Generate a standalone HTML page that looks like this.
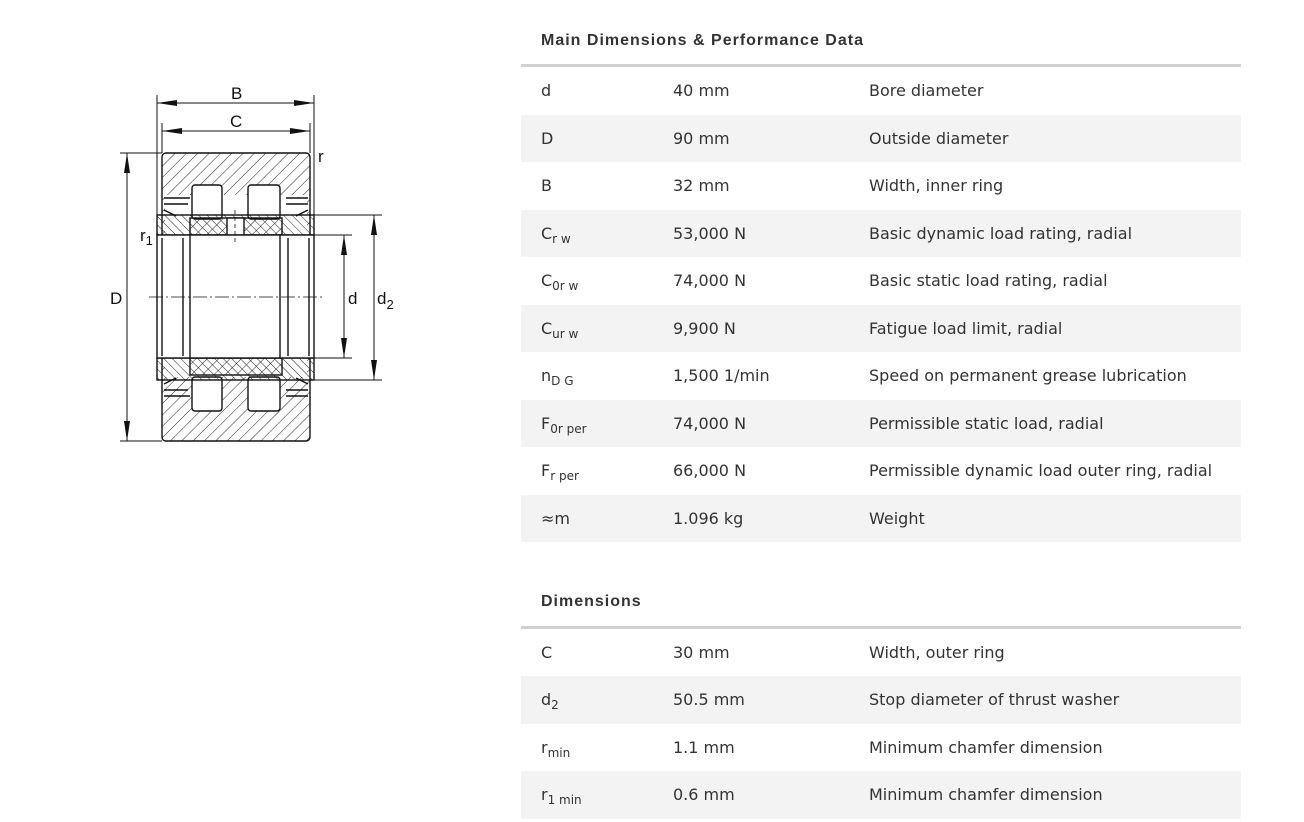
<!DOCTYPE html>
<html><head><meta charset="utf-8"><style>
body{margin:0;width:1304px;height:822px;background:#fff;font-family:"DejaVu Sans",sans-serif;color:#333;position:relative;overflow:hidden}
.h{position:absolute;left:541px;font-family:"Liberation Sans",sans-serif;font-weight:bold;font-size:16px;letter-spacing:1px;color:#333}
.line{position:absolute;left:521px;width:720px;height:3px;background:#d0d0d0}
.row{position:absolute;left:521px;width:720px;height:47.5px;font-size:16px}
.row.g{background:#f3f3f3}
.row span{position:absolute;top:14px}
.c1{left:20px}.c2{left:152px}.c3{left:348px}
sub{font-size:12px;vertical-align:-4px;line-height:0}
</style></head><body>
<svg width="460" height="470" style="position:absolute;left:0;top:0" xmlns="http://www.w3.org/2000/svg" font-family="Liberation Sans, sans-serif">
<defs>
<pattern id="h1" width="8" height="8" patternUnits="userSpaceOnUse" patternTransform="rotate(45)"><line x1="0" y1="0" x2="0" y2="8" stroke="#222" stroke-width="1"/></pattern>
<pattern id="h2" width="6" height="6" patternUnits="userSpaceOnUse" patternTransform="rotate(-45)"><line x1="0" y1="0" x2="0" y2="6" stroke="#222" stroke-width="1"/></pattern>
</defs>
<g stroke="#111" stroke-width="1.4" fill="none">
<rect x="162" y="153" width="148" height="288" rx="4" fill="url(#h1)"/>
<rect x="165" y="195" width="142" height="182" fill="#fff" stroke="none"/>
<rect x="192" y="185" width="30" height="34" rx="3" fill="#fff"/>
<rect x="248" y="185" width="32" height="34" rx="3" fill="#fff"/>
<rect x="192" y="377" width="30" height="34" rx="3" fill="#fff"/>
<rect x="248" y="377" width="32" height="34" rx="3" fill="#fff"/>
<path d="M164 198 H190 M164 204 L188 204 M164 210 L176 216 M286 198 H308 M286 204 H308 M308 210 L296 216" />
<path d="M164 396 H190 M164 390 L188 390 M164 384 L176 378 M286 396 H308 M286 390 H308 M308 384 L296 378" />
<rect x="157" y="215" width="157" height="20" fill="url(#h2)"/>
<rect x="190" y="218" width="92" height="17" fill="url(#h1)"/>
<rect x="227" y="218" width="17" height="17" fill="#fff"/>
<rect x="157" y="358" width="157" height="22" fill="url(#h2)"/>
<rect x="190" y="358" width="92" height="17" fill="url(#h1)"/>
<rect x="157" y="235" width="157" height="123" fill="#fff"/>
<line x1="162" y1="238" x2="162" y2="356"/>
<line x1="183" y1="238" x2="183" y2="356"/>
<line x1="190" y1="235" x2="190" y2="358"/>
<line x1="280" y1="235" x2="280" y2="358"/>
<line x1="288" y1="238" x2="288" y2="356"/>
<line x1="309" y1="238" x2="309" y2="356"/>
<line x1="149" y1="297" x2="322" y2="297" stroke-dasharray="14 3 2 3" stroke-width="0.8"/>
<line x1="235" y1="210" x2="235" y2="243" stroke-dasharray="4 3" stroke-width="0.8"/>
</g>
<g stroke="#111" stroke-width="1">
<line x1="157" y1="95" x2="157" y2="215"/><line x1="314" y1="95" x2="314" y2="215"/>
<line x1="162" y1="123" x2="162" y2="153"/><line x1="310" y1="123" x2="310" y2="153"/>
<line x1="157" y1="103" x2="314" y2="103"/><line x1="162" y1="131" x2="310" y2="131"/>
<line x1="120" y1="153" x2="162" y2="153"/><line x1="120" y1="441" x2="162" y2="441"/>
<line x1="127" y1="153" x2="127" y2="441"/>
<line x1="314" y1="235" x2="352" y2="235"/><line x1="314" y1="358" x2="352" y2="358"/>
<line x1="314" y1="215" x2="382" y2="215"/><line x1="314" y1="380" x2="382" y2="380"/>
<line x1="344" y1="235" x2="344" y2="358"/><line x1="374" y1="215" x2="374" y2="380"/>
</g>
<g fill="#111">
<path d="M157 103 l20 -3 v6z M314 103 l-20 -3 v6z M162 131 l20 -3 v6z M310 131 l-20 -3 v6z"/>
<path d="M127 153 l-3 20 h6z M127 441 l-3 -20 h6z M344 235 l-3 20 h6z M344 358 l-3 -20 h6z M374 215 l-3 20 h6z M374 380 l-3 -20 h6z"/>
</g>
<g font-size="17" fill="#111">
<text x="231" y="99">B</text><text x="230" y="127">C</text>
<text x="318" y="162">r</text>
<text x="140" y="241">r<tspan font-size="13" dy="4">1</tspan></text>
<text x="110" y="304">D</text><text x="348" y="304">d</text>
<text x="377" y="304">d<tspan font-size="13" dy="5">2</tspan></text>
</g>
</svg>

<div class="h" style="top:32px">Main Dimensions &amp; Performance Data</div>
<div class="line" style="top:64px"></div>
<div class="row" style="top:67px"><span class="c1">d</span><span class="c2">40 mm</span><span class="c3">Bore diameter</span></div>
<div class="row g" style="top:114.5px"><span class="c1">D</span><span class="c2">90 mm</span><span class="c3">Outside diameter</span></div>
<div class="row" style="top:162px"><span class="c1">B</span><span class="c2">32 mm</span><span class="c3">Width, inner ring</span></div>
<div class="row g" style="top:209.5px"><span class="c1">C<sub>r w</sub></span><span class="c2">53,000 N</span><span class="c3">Basic dynamic load rating, radial</span></div>
<div class="row" style="top:257px"><span class="c1">C<sub>0r w</sub></span><span class="c2">74,000 N</span><span class="c3">Basic static load rating, radial</span></div>
<div class="row g" style="top:304.5px"><span class="c1">C<sub>ur w</sub></span><span class="c2">9,900 N</span><span class="c3">Fatigue load limit, radial</span></div>
<div class="row" style="top:352px"><span class="c1">n<sub>D G</sub></span><span class="c2">1,500 1/min</span><span class="c3">Speed on permanent grease lubrication</span></div>
<div class="row g" style="top:399.5px"><span class="c1">F<sub>0r per</sub></span><span class="c2">74,000 N</span><span class="c3">Permissible static load, radial</span></div>
<div class="row" style="top:447px"><span class="c1">F<sub>r per</sub></span><span class="c2">66,000 N</span><span class="c3">Permissible dynamic load outer ring, radial</span></div>
<div class="row g" style="top:494.5px"><span class="c1">≈m</span><span class="c2">1.096 kg</span><span class="c3">Weight</span></div>

<div class="h" style="top:593px">Dimensions</div>
<div class="line" style="top:626px"></div>
<div class="row" style="top:629px"><span class="c1">C</span><span class="c2">30 mm</span><span class="c3">Width, outer ring</span></div>
<div class="row g" style="top:676px"><span class="c1">d<sub>2</sub></span><span class="c2">50.5 mm</span><span class="c3">Stop diameter of thrust washer</span></div>
<div class="row" style="top:724px"><span class="c1">r<sub>min</sub></span><span class="c2">1.1 mm</span><span class="c3">Minimum chamfer dimension</span></div>
<div class="row g" style="top:771px"><span class="c1">r<sub>1 min</sub></span><span class="c2">0.6 mm</span><span class="c3">Minimum chamfer dimension</span></div>
</body></html>
